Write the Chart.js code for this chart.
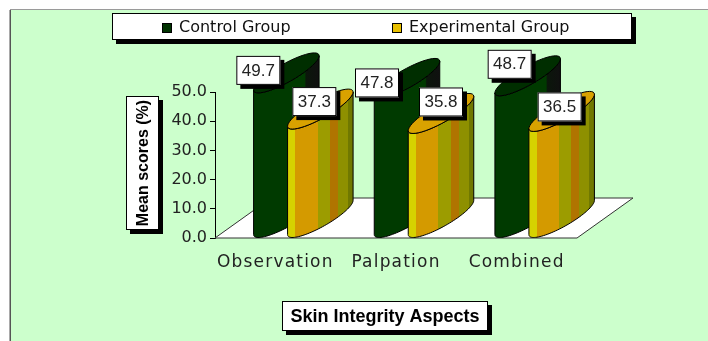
<!DOCTYPE html>
<html>
<head>
<meta charset="utf-8">
<script src="https://cdn.jsdelivr.net/npm/chart.js@4.4.1/dist/chart.umd.min.js"></script>
<style>
  html, body { margin: 0; padding: 0; background: #fff; }
  #wrap { width: 708px; height: 341px; }
  canvas { display: block; }
</style>
</head>
<body>
<div id="wrap"><canvas id="chart" width="708" height="341"></canvas></div>
<script>
// ---- data ----
const categories = ['Observation', 'Palpation', 'Combined'];
const seriesNames = ['Control Group', 'Experimental Group'];
const controlScores = [49.7, 47.8, 48.7];
const experimentalScores = [37.3, 35.8, 36.5];
const yTicks = [0, 10, 20, 30, 40, 50];
const yTitle = 'Mean scores (%)';
const xTitle = 'Skin Integrity Aspects';

// ---- look ----
const DEPTH = { x: 56, y: -40 };           // oblique depth of the floor
const PANEL_BG = '#CCFFCC';
const cylinderStyles = [
  { // control: dark green with a shaded right flank
    swatch: '#003300',
    top: '#002E00',
    stops: [[0, '#003A00'], [0.78, '#003A00'], [0.80, '#0B160B'], [1, '#101010']]
  },
  { // experimental: banded gold
    swatch: '#E8C000',
    top: '#D9A200',
    stops: [[0, '#D6D200'], [0.12, '#D6D200'], [0.12, '#D49A00'], [0.46, '#D49A00'],
            [0.46, '#9C9C00'], [0.65, '#9C9C00'], [0.65, '#B07400'], [0.77, '#B07400'],
            [0.77, '#8E9000'], [0.92, '#8E9000'], [0.92, '#707800'], [1, '#707800']]
  }
];
// manual placement of each value box relative to its column top
const labelNudge = [
  [[0, -23], [-2, -16], [10, -32]],
  [[22, -28], [28, -32], [26, -25]]
];

function shadowBox(ctx, x, y, w, h, off) {
  ctx.fillStyle = '#000';
  ctx.fillRect(x + off, y + off, w, h);
  ctx.fillStyle = '#fff';
  ctx.fillRect(x, y, w, h);
  ctx.strokeStyle = '#000';
  ctx.lineWidth = 1;
  ctx.strokeRect(x + 0.5, y + 0.5, w - 1, h - 1);
}

// point on the horizontal ellipse of a cylinder (conjugate half-axes r and v)
function ellPt(cx, cy, r, vx, vy, t) {
  return [cx + r * Math.cos(t) + vx * Math.sin(t), cy + vy * Math.sin(t)];
}

function drawCylinder(ctx, el, style) {
  const r = el.width / 2;
  const vx = DEPTH.x / 2, vy = DEPTH.y / 2;
  const cx = el.x + vx;
  const cyB = el.base + vy, cyT = el.y + vy;
  const phi = Math.atan2(vx, r);
  const R = Math.hypot(r, vx);
  const N = 48;
  const t0 = phi + Math.PI, t1 = phi + 2 * Math.PI;

  // body silhouette: lower rim at the base, flank, lower rim at the top
  ctx.beginPath();
  for (let i = 0; i <= N; i++) {
    const p = ellPt(cx, cyB, r, vx, vy, t0 + (t1 - t0) * i / N);
    i ? ctx.lineTo(p[0], p[1]) : ctx.moveTo(p[0], p[1]);
  }
  for (let i = N; i >= 0; i--) {
    const p = ellPt(cx, cyT, r, vx, vy, t0 + (t1 - t0) * i / N);
    ctx.lineTo(p[0], p[1]);
  }
  ctx.closePath();
  const g = ctx.createLinearGradient(cx - R, 0, cx + R, 0);
  style.stops.forEach(s => g.addColorStop(s[0], s[1]));
  ctx.fillStyle = g;
  ctx.fill();
  ctx.strokeStyle = '#000';
  ctx.lineWidth = 1;
  ctx.stroke();

  // top face
  ctx.beginPath();
  for (let i = 0; i <= N; i++) {
    const p = ellPt(cx, cyT, r, vx, vy, 2 * Math.PI * i / N);
    i ? ctx.lineTo(p[0], p[1]) : ctx.moveTo(p[0], p[1]);
  }
  ctx.closePath();
  ctx.fillStyle = style.top;
  ctx.fill();
  ctx.stroke();
}

const framePlugin = {
  id: 'frame',
  beforeDraw(chart) {
    const ctx = chart.ctx;
    ctx.save();
    ctx.fillStyle = '#fff';
    ctx.fillRect(0, 0, chart.width, chart.height);
    ctx.fillStyle = PANEL_BG;
    ctx.fillRect(10, 10, chart.width - 10, chart.height - 10);
    ctx.strokeStyle = '#9a9a9a';
    ctx.lineWidth = 1;
    ctx.beginPath(); ctx.moveTo(10, 9.5); ctx.lineTo(chart.width, 9.5); ctx.stroke();
    ctx.strokeStyle = '#555';
    ctx.lineWidth = 1.5;
    ctx.beginPath(); ctx.moveTo(10.25, 10); ctx.lineTo(10.25, chart.height); ctx.stroke();

    // legend
    shadowBox(ctx, 112, 13, 520, 27, 4);
    const items = [{ x: 162 }, { x: 392 }];
    ctx.font = '16px "DejaVu Sans"';
    ctx.textBaseline = 'middle';
    ctx.textAlign = 'left';
    chart.data.datasets.forEach((ds, i) => {
      const x = items[i].x;
      ctx.fillStyle = cylinderStyles[i].swatch;
      ctx.fillRect(x, 23, 10, 10);
      ctx.strokeStyle = '#000';
      ctx.strokeRect(x + 0.5, 23.5, 9, 9);
      ctx.fillStyle = '#111';
      ctx.fillText(ds.label, x + 17, 28);
    });

    // axis titles in boxes
    shadowBox(ctx, 126, 96, 33, 134, 4);
    ctx.save();
    ctx.translate(143, 163);
    ctx.rotate(-Math.PI / 2);
    ctx.font = 'bold 16px "Liberation Sans"';
    ctx.textAlign = 'center';
    ctx.fillStyle = '#000';
    ctx.fillText(yTitle, 0, 1);
    ctx.restore();

    shadowBox(ctx, 282, 301, 206, 30, 4);
    ctx.font = 'bold 18px "Liberation Sans"';
    ctx.textAlign = 'center';
    ctx.fillStyle = '#000';
    ctx.fillText(xTitle, 385, 317);
    ctx.restore();
  },
  beforeDatasetsDraw(chart) {
    // floor of the 3-D plot
    const { left, right, bottom } = chart.chartArea;
    const ctx = chart.ctx;
    ctx.save();
    ctx.beginPath();
    ctx.moveTo(left, bottom);
    ctx.lineTo(right, bottom);
    ctx.lineTo(right + DEPTH.x, bottom + DEPTH.y);
    ctx.lineTo(left + DEPTH.x, bottom + DEPTH.y);
    ctx.closePath();
    ctx.fillStyle = '#fff';
    ctx.fill();
    ctx.strokeStyle = '#333';
    ctx.lineWidth = 1;
    ctx.stroke();
    ctx.restore();
  },
  beforeDatasetDraw() {
    return false; // columns are drawn as cylinders below
  },
  afterDatasetsDraw(chart) {
    const ctx = chart.ctx;
    ctx.save();
    const metas = chart.data.datasets.map((_, i) => chart.getDatasetMeta(i));
    categories.forEach((_, j) => {
      metas.forEach((meta, i) => drawCylinder(ctx, meta.data[j], cylinderStyles[i]));
    });
    // value boxes
    ctx.font = '17px "Liberation Sans"';
    ctx.textAlign = 'center';
    ctx.textBaseline = 'middle';
    metas.forEach((meta, i) => {
      const values = chart.data.datasets[i].data;
      meta.data.forEach((el, j) => {
        const cx = el.x + labelNudge[i][j][0];
        const cy = el.y + labelNudge[i][j][1];
        shadowBox(ctx, cx - 22, cy - 14, 44, 29, 4);
        ctx.fillStyle = '#222';
        ctx.fillText(values[j].toFixed(1), cx, cy + 1);
      });
    });
    ctx.restore();
    ctx.letterSpacing = '1.2px'; // wide category captions
  },
  afterDraw(chart) {
    chart.ctx.letterSpacing = '0px';
  }
};

new Chart(document.getElementById('chart'), {
  type: 'bar',
  data: {
    labels: categories,
    datasets: [
      { label: seriesNames[0], data: controlScores, backgroundColor: cylinderStyles[0].swatch },
      { label: seriesNames[1], data: experimentalScores, backgroundColor: cylinderStyles[1].swatch }
    ]
  },
  options: {
    responsive: false,
    animation: false,
    devicePixelRatio: 1,
    categoryPercentage: 0.5635,
    barPercentage: 1,
    layout: { padding: { left: 0, right: 131, top: 92, bottom: 63 } },
    plugins: {
      legend: { display: false },
      tooltip: { enabled: false }
    },
    scales: {
      x: {
        grid: { display: false },
        border: { display: false },
        ticks: {
          z: 1,
          padding: 6,
          color: '#222',
          font: { family: '"DejaVu Sans"', size: 17 }
        },
        afterFit(s) { s.height = 40; }
      },
      y: {
        min: 0,
        max: 50,
        afterBuildTicks(s) { s.ticks = yTicks.map(v => ({ value: v })); },
        grid: { drawOnChartArea: false, drawTicks: true, tickLength: 5, color: '#000' },
        border: { display: true, color: '#000', width: 1 },
        ticks: {
          padding: 3,
          color: '#222',
          font: { family: '"DejaVu Sans"', size: 16 },
          callback: v => Number(v).toFixed(1)
        },
        afterFit(s) { s.width = 215; }
      }
    }
  },
  plugins: [framePlugin]
});
</script>
</body>
</html>
